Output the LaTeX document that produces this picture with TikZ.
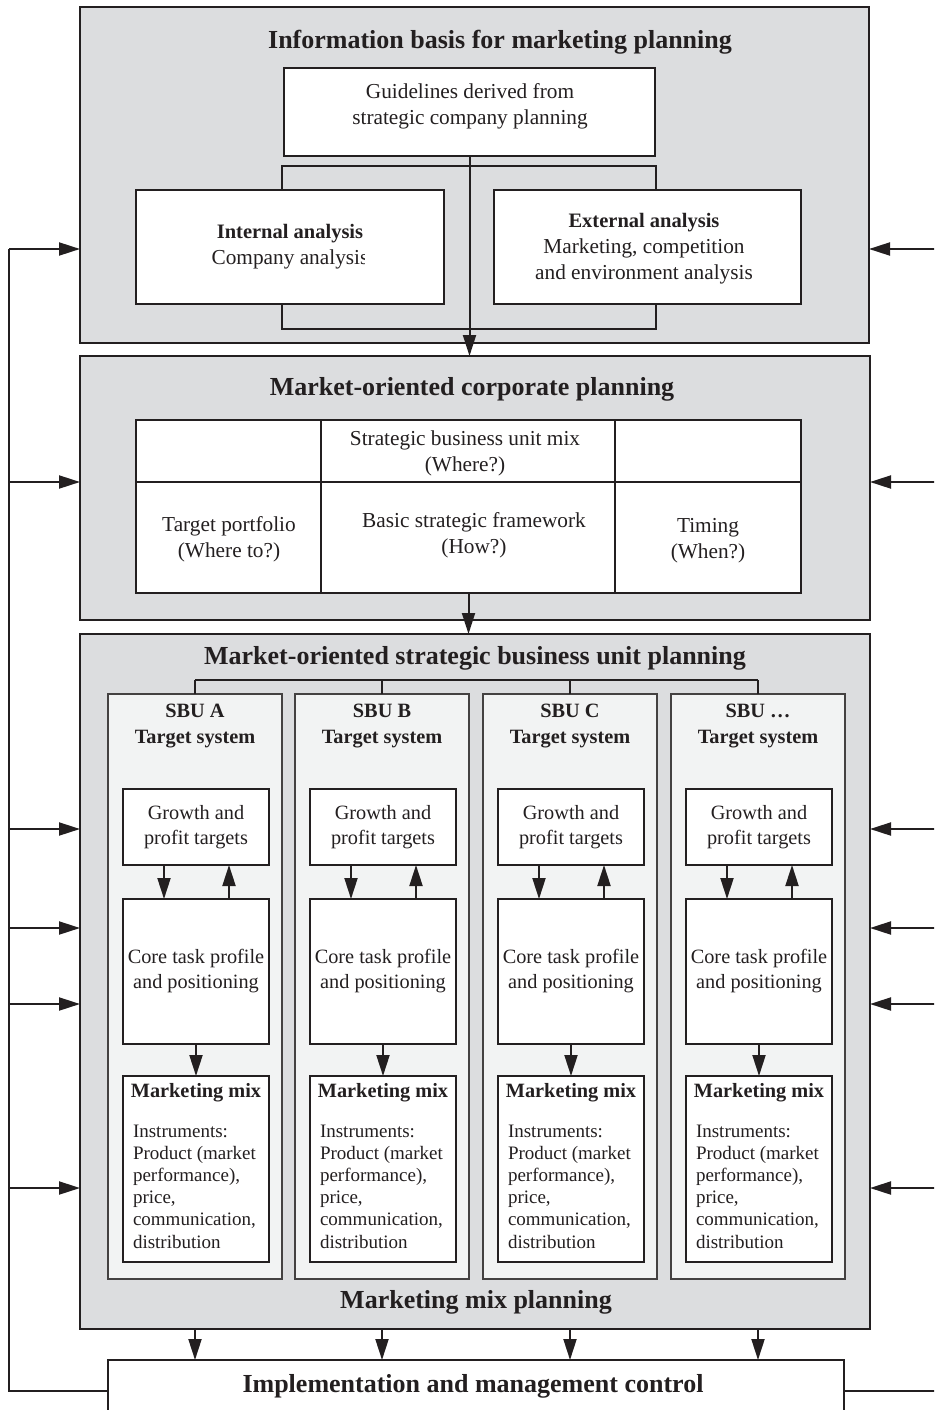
\documentclass[tikz,border=0pt]{standalone}
\usepackage{fontspec}
\setmainfont{Liberation Serif}
\usetikzlibrary{arrows.meta}
\definecolor{ink}{RGB}{35,31,32}
\definecolor{shade}{RGB}{220,221,223}
\definecolor{panelfill}{RGB}{242,243,243}

\begin{document}
\begin{tikzpicture}[x=1pt,y=-1pt,
  every node/.style={inner sep=0pt, outer sep=0pt, text=ink},
  stage/.style={draw=ink, line width=2.6pt, fill=shade, rectangle, anchor=north west},
  whitebox/.style={draw=ink, line width=1.6pt, fill=white, rectangle, anchor=north west},
  innerbox/.style={draw=ink, line width=1.8pt, fill=white, rectangle, anchor=center},
  sbupanel/.style={draw=ink!85, line width=1.5pt, fill=panelfill, rectangle, anchor=north west},
  headline/.style={font=\fontsize{26}{30}\selectfont\bfseries},
  body/.style={font=\fontsize{21.3}{26}\selectfont, align=center},
  boldbody/.style={font=\fontsize{20.5}{26}\selectfont\bfseries},
  sbuhead/.style={font=\fontsize{20.3}{26}\selectfont\bfseries, align=center},
  sbubody/.style={font=\fontsize{20.3}{25.5}\selectfont, align=center},
  mmtext/.style={font=\fontsize{19}{22.2}\selectfont, align=left, anchor=west},
  link/.style={draw=ink, line width=2pt},
  arr/.style={link, -{Triangle[length=21pt,width=13pt]}},
]
\useasboundingbox (0,0) rectangle (934,1410);
\fill[white] (0,0) rectangle (934,1410);
\clip (0,0) rectangle (934,1410);

% ---------- Stage 1: information basis ----------
\node[stage, minimum width=789pt, minimum height=336pt] (info) at (80,7) {};
\node[headline] (infoT) at (500,42) {Information basis for marketing planning};
\node[whitebox, minimum width=371pt, minimum height=88pt] (guide) at (284,68) {};
\node[body] (guideT) at (470,106) {Guidelines derived from\\strategic company planning};
\node[whitebox, minimum width=308pt, minimum height=114pt] (intern) at (136,190) {};
\begin{scope}
  \clip (136,190) rectangle (364,304);
  \node[body] (internT) at (290,246.5) {{\bfseries\fontsize{20.5}{26}\selectfont Internal analysis}\\Company analysis};
\end{scope}
\node[whitebox, minimum width=307pt, minimum height=114pt] (extern) at (494,190) {};
\node[body] (externT) at (644,249) {{\bfseries\fontsize{20.5}{26}\selectfont External analysis}\\Marketing, competition\\and environment analysis};

\coordinate (bL) at (282,166);
\coordinate (bR) at (656,166);
\coordinate (cL) at (282,329);
\coordinate (cR) at (656,329);
\draw[link] (bL |- intern.north) -- (bL) -- (bR) -- (bR |- extern.north);
\draw[link] (cL |- intern.south) -- (cL) -- (cR) -- (cR |- extern.south);

% ---------- Stage 2: corporate planning ----------
\node[stage, minimum width=790pt, minimum height=264pt] (corp) at (80,356) {};
\node[headline] (corpT) at (472,389) {Market-oriented corporate planning};
\node[whitebox, minimum width=665pt, minimum height=173pt, line width=1.4pt] (grid) at (136,420) {};
\coordinate (rowY) at (0,482);
\coordinate (colA) at (321,0);
\coordinate (colB) at (615,0);
\draw[draw=ink, line width=1.4pt] (grid.west |- rowY) -- (grid.east |- rowY);
\draw[draw=ink, line width=1.4pt] (colA |- grid.north) -- (colA |- grid.south);
\draw[draw=ink, line width=1.4pt] (colB |- grid.north) -- (colB |- grid.south);
\node[body] (mixT) at (465,453) {Strategic business unit mix\\(Where?)};
\node[body] (portT) at (229,539) {Target portfolio\\(Where to?)};
\node[body] (frameT) at (474,535) {Basic strategic framework\\(How?)};
\node[body] (timeT) at (708,541) {Timing\\(When?)};

\draw[arr] (guide.south) -- (guide.south |- corp.north);

% ---------- Stage 3: SBU planning ----------
\node[stage, minimum width=790pt, minimum height=695pt] (sbu) at (80,634) {};
\node[headline] (sbuT) at (475,658) {Market-oriented strategic business unit planning};
\node[headline] (mixplanT) at (476,1302) {Marketing mix planning};
\draw[arr] (grid.south) -- (grid.south |- sbu.north);

% ---------- Implementation ----------
\node[whitebox, minimum width=736pt, minimum height=90pt, line width=1.5pt] (impl) at (108,1360) {};
\node[headline] (implT) at (473,1386) {Implementation and management control};

\coordinate (brk) at (0,680);
\foreach \n/\lx/\lbl in {A/108/A, B/295/B, C/483/C, D/671/\dots} {
  \node[sbupanel, minimum width=174pt, minimum height=585pt] (p\n) at (\lx,694) {};
  \node[sbuhead] (p\n T) at (\lx+87,726) {SBU \lbl\\Target system};
  \node[innerbox, minimum width=146pt, minimum height=76pt] (g\n) at (\lx+88,827) {};
  \node[sbubody] (g\n T) at (\lx+88,827) {Growth and\\profit targets};
  \node[innerbox, minimum width=146pt, minimum height=145pt] (k\n) at (\lx+88,971.5) {};
  \node[sbubody] (k\n T) at (\lx+88,971) {Core task profile\\and positioning};
  \node[innerbox, minimum width=146pt, minimum height=186pt] (m\n) at (\lx+88,1169) {};
  \node[sbuhead] (m\n H) at (\lx+88,1093) {Marketing mix};
  \node[mmtext] (m\n T) at (\lx+25,1186.5) {Instruments:\\Product (market\\performance),\\price,\\communication,\\distribution};
  \draw[arr] ([xshift=-32pt]g\n.south) -- ([xshift=-32pt]k\n.north);
  \draw[arr] ([xshift=33pt]k\n.north) -- ([xshift=33pt]g\n.south);
  \draw[arr] (k\n.south) -- (m\n.north);
  \draw[link] (p\n.north) -- (p\n.north |- brk);
  \draw[arr] (p\n.south |- sbu.south) -- (p\n.south |- impl.north);
}
\draw[link] (pA.north |- brk) -- (pD.north |- brk);

% ---------- Feedback lines ----------
\coordinate (busT) at (9,249);
\coordinate (busB) at (9,1391);
\coordinate (rB) at (940,1391);
\draw[link] (busT) -- (busB) -- (busB -| impl.west);
\draw[link] (impl.east |- rB) -- (rB);
\foreach \yy/\tgt in {249/info, 482/corp, 829/sbu, 928/sbu, 1004/sbu, 1188/sbu} {
  \coordinate (L\yy) at (9,\yy);
  \coordinate (R\yy) at (940,\yy);
  \draw[arr] (L\yy) -- (L\yy -| \tgt.west);
  \draw[arr] (R\yy) -- (R\yy -| \tgt.east);
}
\end{tikzpicture}
\end{document}
